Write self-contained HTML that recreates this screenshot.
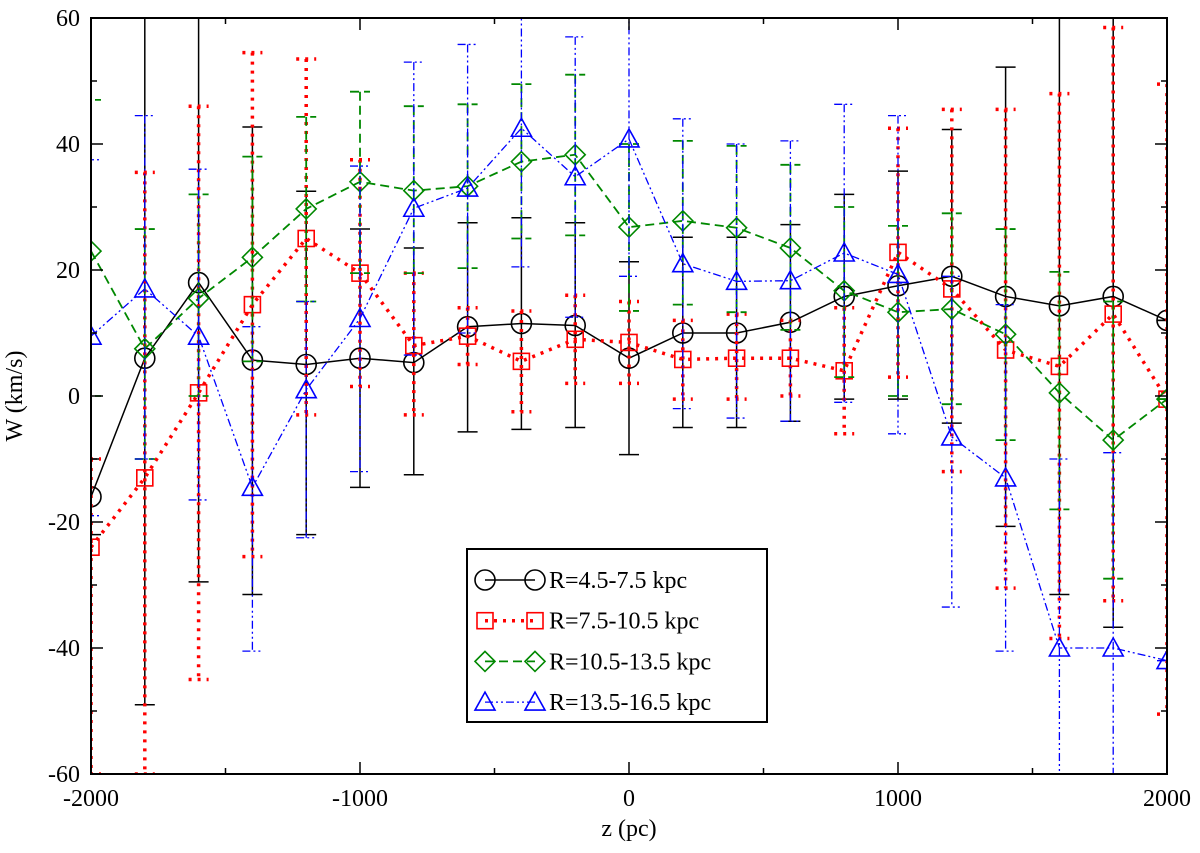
<!DOCTYPE html>
<html><head><meta charset="utf-8"><style>
html,body{margin:0;padding:0;background:#fff}
svg text{font-family:"Liberation Serif",serif;}
</style></head><body>
<svg id="chart" width="1200" height="848" xmlns="http://www.w3.org/2000/svg">
<defs><clipPath id="clip"><rect x="91" y="18" width="1076" height="756"/></clipPath></defs>
<g id="plot" clip-path="url(#clip)"></g>
<g id="axes"></g>
<g id="legend"></g>
</svg>
<script>
const zVals=[-2000,-1800,-1600,-1400,-1200,-1000,-800,-600,-400,-200,0,200,400,600,800,1000,1200,1400,1600,1800,2000];
const blackW=[-16,6,18,5.7,5,6,5.3,11,11.5,11.2,6,10,10,11.7,15.8,17.5,19,15.8,14.3,15.8,12];
const blackHi=[-10,70,70,42.7,32.5,26.5,23.5,27.5,28.3,27.5,21.3,25.2,25.2,27.2,32,35.7,42.3,52.2,70,70,12];
const blackLo=[-22,-49,-29.5,-31.5,-22,-14.5,-12.5,-5.7,-5.3,-5,-9.3,-5,-5,-4,-0.5,-0.5,-4.3,-20.7,-31.5,-36.7,12];
const redW=[-24,-13,0.5,14.5,25,19.5,8,9.5,5.5,9,8.5,5.8,6,6,4,22.8,17,7.3,4.7,13,-0.5];
const redHi=[-10,35.5,46,54.5,53.5,37.5,19.5,14,13.5,16,15,12,13,12,14,42.5,45.5,45.5,48,58.5,49.5];
const redLo=[-60,-60,-45,-25.5,-3,1.5,-3,5,-2.5,2,2,-0.5,-0.5,0,-6,3,-12,-30.5,-38.5,-32.5,-50.5];
const greenW=[23,7.5,15.5,22,29.7,34,32.6,33.3,37.2,38.3,26.8,27.8,26.7,23.5,16.7,13.3,13.8,9.8,0.5,-7,-0.5];
const greenHi=[47,26.5,32,38,44.3,48.3,46,46.3,49.5,51,40,40.5,39.7,36.7,30,27,29,26.5,19.7,15,-0.5];
const greenLo=[0,-10,0,5.5,15,19.5,19.5,20.3,25,25.5,13.5,14.5,13.3,10.5,3,0,-1.3,-7,-18,-29,-0.5];
const blueW=[9.5,17,9.5,-14.5,1,12.3,29.8,33,42.5,34.8,40.8,21,18.2,18.3,22.7,19.3,-6.5,-13,-40,-40,-42];
const blueHi=[37.5,44.5,36,11,15,36.5,53,55.8,65,57,62,44,40,40.5,46.3,44.5,19,14.5,-10,-9,-42];
const blueLo=[-19,-10,-16.5,-40.5,-22.5,-12,6.5,10,20.5,12.5,19,-2,-3.5,-4,-1,-6,-33.5,-40.5,-70,-70,-42];
const xTicks=[-2000,-1000,0,1000,2000];
const yTicks=[-60,-40,-20,0,20,40,60];

const NS="http://www.w3.org/2000/svg";
const X0=91,X1=1167,Y0=774,Y1=18;
const sx=v=>X0+(v+2000)/4000*(X1-X0);
const sy=v=>Y0-(v+60)/120*(Y0-Y1);
function mk(tag,attrs,parent){const e=document.createElementNS(NS,tag);for(const k in attrs)e.setAttribute(k,attrs[k]);parent.appendChild(e);return e;}
const plot=document.getElementById('plot'),axes=document.getElementById('axes'),legend=document.getElementById('legend');

function marker(type,x,y,color,parent){
  let e;
  if(type==='circle'){e=mk('circle',{cx:x,cy:y,r:10,fill:'none',stroke:color,'stroke-width':1.6},parent);}
  else if(type==='square'){e=mk('rect',{x:x-8,y:y-8,width:16,height:16,fill:'none',stroke:color,'stroke-width':1.6},parent);}
  else if(type==='diamond'){e=mk('polygon',{points:`${x},${y-10} ${x+10},${y} ${x},${y+10} ${x-10},${y}`,fill:'none',stroke:color,'stroke-width':1.6},parent);}
  else {e=mk('polygon',{points:`${x},${y-10} ${x+10},${y+8} ${x-10},${y+8}`,fill:'none',stroke:color,'stroke-width':1.6},parent);}
  return e;
}
const series=[
 {name:'r-4.5-7.5',label:'R=4.5-7.5 kpc',w:blackW,hi:blackHi,lo:blackLo,color:'#000',dash:'',width:1.5,m:'circle'},
 {name:'r-7.5-10.5',label:'R=7.5-10.5 kpc',w:redW,hi:redHi,lo:redLo,color:'#f00',dash:'3,6',width:3.5,m:'square'},
 {name:'r-10.5-13.5',label:'R=10.5-13.5 kpc',w:greenW,hi:greenHi,lo:greenLo,color:'#080',dash:'9,5',width:1.8,m:'diamond'},
 {name:'r-13.5-16.5',label:'R=13.5-16.5 kpc',w:blueW,hi:blueHi,lo:blueLo,color:'#00f',dash:'8,3,2,3,2,3',width:1.3,m:'triangle'}
];
series.forEach(s=>{
  const g=mk('g',{},plot);
  
  
  zVals.forEach((z,i)=>{
    const x=sx(z);
    const eb=mk('g',{},g);
    
    
    mk('line',{x1:x,x2:x,y1:sy(s.hi[i]),y2:sy(s.lo[i]),stroke:s.color,'stroke-width':s.width,'stroke-dasharray':s.dash},eb);
    mk('line',{x1:x-10,x2:x+10,y1:sy(s.hi[i]),y2:sy(s.hi[i]),stroke:s.color,'stroke-width':s.width,'stroke-dasharray':s.dash},eb);
    mk('line',{x1:x-10,x2:x+10,y1:sy(s.lo[i]),y2:sy(s.lo[i]),stroke:s.color,'stroke-width':s.width,'stroke-dasharray':s.dash},eb);
  });
  const pts=zVals.map((z,i)=>sx(z)+','+sy(s.w[i])).join(' ');
  const pl=mk('polyline',{points:pts,fill:'none',stroke:s.color,'stroke-width':s.width,'stroke-dasharray':s.dash},g);
  
  
  zVals.forEach((z,i)=>{
    const m=marker(s.m,sx(z),sy(s.w[i]),s.color,g);
    
    
  });
});
// frame
const fr=mk('rect',{x:X0,y:Y1,width:X1-X0,height:Y0-Y1,fill:'none',stroke:'#000','stroke-width':2},axes);


for(let v=-2000;v<=2000;v+=500){
  const x=sx(v),L=(v%1000===0)?12:6;
  mk('line',{x1:x,x2:x,y1:Y0,y2:Y0-L,stroke:'#000','stroke-width':1.5},axes);
  mk('line',{x1:x,x2:x,y1:Y1,y2:Y1+L,stroke:'#000','stroke-width':1.5},axes);
}
for(let v=-60;v<=60;v+=10){
  const y=sy(v),L=(v%20===0)?12:6;
  mk('line',{x1:X0,x2:X0+L,y1:y,y2:y,stroke:'#000','stroke-width':1.5},axes);
  mk('line',{x1:X1,x2:X1-L,y1:y,y2:y,stroke:'#000','stroke-width':1.5},axes);
}
xTicks.forEach(v=>{
  const t=mk('text',{x:sx(v),y:806,'text-anchor':'middle','font-size':24},axes);t.textContent=v;
  
  
});
yTicks.forEach(v=>{
  const t=mk('text',{x:80,y:sy(v)+8,'text-anchor':'end','font-size':24},axes);t.textContent=v;
  
  
});
const xt=mk('text',{x:629,y:836,'text-anchor':'middle','font-size':24},axes);xt.textContent='z (pc)';


const yt=mk('text',{x:22,y:396,'text-anchor':'middle','font-size':24,transform:'rotate(-90 22 396)'},axes);yt.textContent='W (km/s)';


// legend
const lb=mk('rect',{x:467,y:549,width:300,height:173,fill:'#fff',stroke:'#000','stroke-width':2},legend);


series.forEach((s,i)=>{
  const y=580+i*40.7;
  const g=mk('g',{},legend);
  
  
  mk('line',{x1:485,x2:535,y1:y,y2:y,stroke:s.color,'stroke-width':s.width,'stroke-dasharray':s.dash},g);
  marker(s.m,485,y,s.color,g);marker(s.m,535,y,s.color,g);
  const t=mk('text',{x:549,y:y+8,'font-size':24},g);t.textContent=s.label;
});
</script>
</body></html>
